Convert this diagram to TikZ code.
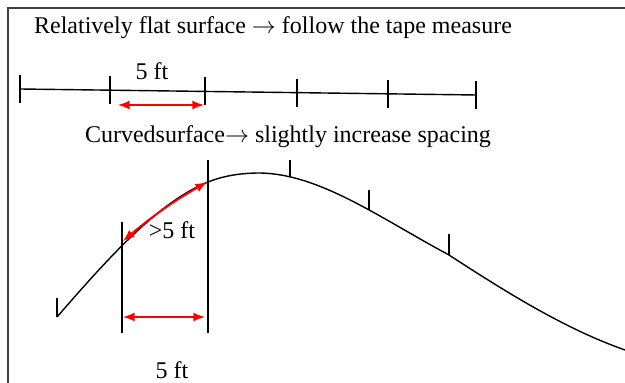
\documentclass[tikz,border=0pt]{standalone}
\usepackage{fontspec}
\setmainfont{Liberation Serif}
\usetikzlibrary{arrows}

\begin{document}
\begin{tikzpicture}[x=0.5pt, y=-0.5pt,
    >=latex,   % Pfeilspitzen
    font=\fontsize{12}{14}\selectfont,
    markline/.style={line width=0.7pt},
    gaparrow/.style={<->, red, line width=1pt}]
    \useasboundingbox (0,0) rectangle (625,383);
    % Rahmen
    \draw[black!75, line width=1.2pt] (8,383) -- (8,8) -- (625,8);
    % Gerade Fläche
    \node (flattitle) at (273,28) {Relatively flat surface $\rightarrow$ follow the tape measure};
    \coordinate (f0) at (20,89);
    \coordinate (f5) at (476,95);
    \draw[markline] (f0) -- (f5);
    \foreach \x [count=\i from 0] in {20,110,205,297,388,476}
        \draw[markline] (\x,{89+(\x-20)*6/456-14}) coordinate (ft\i) -- ++(0,28) coordinate (fb\i);
    \node (flatlabel) at (152,71) {5 ft};
    \coordinate (fa) at (118,105);
    \coordinate (fb) at (204,105);
    \draw[gaparrow] (fa) -- (fb);
    % Gekrümmte Fläche
    \node (curvetitle) at (288,137) {Curvedsurface$\rightarrow$ slightly increase spacing};
    \draw[markline] (57,317) .. controls (107,259.5) and (158,202) .. (208,182)
        .. controls (225,175.2) and (243,173) .. (260,173)
        .. controls (320,174) and (380,218) .. (449,255)
        .. controls (508,293.4) and (566,329.3) .. (625,350);
    % Markierungen auf der Kurve
    \foreach \x/\y/\t [count=\i] in {57/317/298, 290/177/160, 369/210/190, 449/255/234}
        \draw[markline] (\x,\y) coordinate (cb\i) -- (\x,\t) coordinate (ct\i);
    % Senkrechte
    \coordinate (va) at (122,222);
    \coordinate (vab) at (122,333);
    \coordinate (vb) at (208,160);
    \coordinate (vbb) at (208,333);
    \draw[markline] (va) -- (vab);
    \draw[markline] (vb) -- (vbb);
    % Abstände
    \coordinate (ca) at (123,241);
    \coordinate (cc) at (207,182);
    \draw[gaparrow] (ca) to[bend left=5] (cc);
    \node (curvelabel) at (172,230) {>5 ft};
    \coordinate (ha) at (123,317);
    \coordinate (hb) at (205,317);
    \draw[gaparrow] (ha) -- (hb);
    \node (horlabel) at (172,370) {5 ft};
\end{tikzpicture}
\end{document}
